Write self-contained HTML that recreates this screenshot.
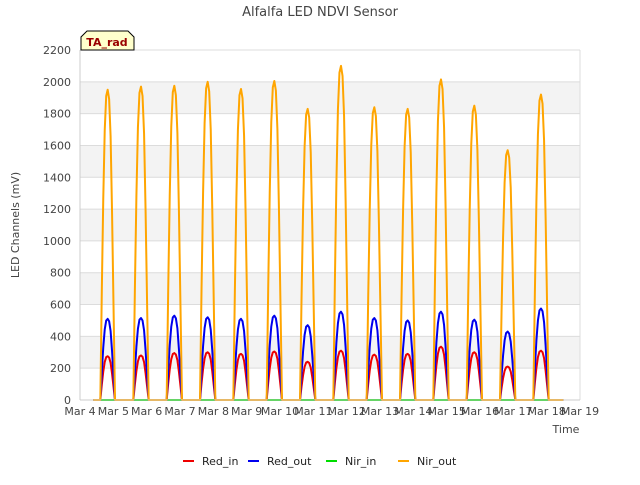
<!DOCTYPE html>
<html><head><meta charset="utf-8"><style>
body{margin:0;background:#fff;font-family:"Liberation Sans","DejaVu Sans",sans-serif}
svg text{font-family:"DejaVu Sans","Liberation Sans",sans-serif}
</style></head><body>
<svg id="c" width="640" height="480">
<text x="320" y="16" text-anchor="middle" font-size="13" fill="#444">Alfalfa LED NDVI Sensor</text>
<g id="grid"></g>
<g id="series"></g>
<g id="axes"></g>
<text transform="translate(19,225) rotate(-90)" text-anchor="middle" font-size="11" fill="#444">LED Channels (mV)</text>
<text x="566" y="433" text-anchor="middle" font-size="11" fill="#444">Time</text>
<g>
<path d="M81,50 L81,37 L87,31 L128,31 L134,37 L134,50 Z" fill="#ffffcc" stroke="#000" stroke-width="1"/>
<text x="107" y="46" text-anchor="middle" font-size="11" font-weight="bold" fill="#990000">TA_rad</text>
</g>
<g id="legend"></g>
</svg>
<script>
const yTicks=[0,200,400,600,800,1000,1200,1400,1600,1800,2000,2200];
const xTickLabels=["Mar 4","Mar 5","Mar 6","Mar 7","Mar 8","Mar 9","Mar 10","Mar 11","Mar 12","Mar 13","Mar 14","Mar 15","Mar 16","Mar 17","Mar 18","Mar 19"];
const nirOutPeaks=[1950,1970,1975,2000,1955,2005,1830,2100,1840,1830,2015,1850,1570,1920];
const redOutPeaks=[510,515,530,520,510,530,470,555,515,500,555,505,430,575];
const redInPeaks=[275,280,295,300,290,305,240,310,285,290,335,300,210,310];
const nirInPeaks=[0,0,0,0,0,0,0,0,0,0,0,0,0,0];
const humpProfile=[0,0.35,0.65,0.87,0.98,1,0.97,0.85,0.6,0.3,0];
const X0=80,X1=580,Y0=400,Y1=50;
const x=d=>X0+(d)*(X1-X0)/15;
const y=v=>Y0-v*(Y0-Y1)/2200;
const ns="http://www.w3.org/2000/svg";
function mk(tag,attrs,parent){const e=document.createElementNS(ns,tag);for(const k in attrs)e.setAttribute(k,attrs[k]);parent.appendChild(e);return e;}
const grid=document.getElementById('grid'),axes=document.getElementById('axes'),ser=document.getElementById('series'),leg=document.getElementById('legend');
for(let i=0;i<yTicks.length-1;i++){
 if(i%2===1){const r=mk('rect',{x:X0,y:y(yTicks[i+1]),width:X1-X0,height:y(yTicks[i])-y(yTicks[i+1]),fill:'#f3f3f3'},grid);
 
 }
}
yTicks.forEach(v=>{
 const l=mk('line',{x1:X0,x2:X1,y1:y(v),y2:y(v),stroke:'#dcdcdc'},grid);
 
 
 const t=mk('text',{x:X0-9,y:y(v)+4,'text-anchor':'end','font-size':'11',fill:'#444'},axes);
 t.textContent=v;
 
 
});
mk('line',{x1:X1,x2:X1,y1:Y1,y2:Y0,stroke:'#dcdcdc'},grid);
mk('line',{x1:X0,x2:X0,y1:Y1,y2:Y0,stroke:'#ccc'},axes);
mk('line',{x1:X0,x2:X1,y1:Y0,y2:Y0,stroke:'#ccc'},axes);
xTickLabels.forEach((s,i)=>{
 const t=mk('text',{x:x(i),y:Y0+15,'text-anchor':'middle','font-size':'11',fill:'#444'},axes);
 t.textContent=s;
 
 
});
function series(peaks,color,width,name){
 let pts=[[x(0.4),y(0)]];
 peaks.forEach((p,d)=>{
  const c=d+0.83,hw=d===0?0.22:0.23;
  humpProfile.forEach((f,k)=>{const t=c-hw+2*hw*k/(humpProfile.length-1);pts.push([x(t),y(p*f)]);});
 });
 pts.push([x(14.5),y(0)]);
 const p=mk('polyline',{points:pts.map(q=>q.join(',')).join(' '),fill:'none',stroke:color,'stroke-width':width,'stroke-linejoin':'round'},ser);
 
 
}
series(nirInPeaks,'#00dd00',2,'nir-in-line');
series(redInPeaks,'#ee0000',2,'red-in-line');
series(redOutPeaks,'#0000ee',2,'red-out-line');
series(nirOutPeaks,'#ffa500',2,'nir-out-line');
const legItems=[["Red_in","#ee0000",183],["Red_out","#0000ee",248],["Nir_in","#00dd00",326],["Nir_out","#ffa500",398]];
legItems.forEach(([n,c,lx])=>{
 const g=mk('g',{},leg);
 
 
 mk('line',{x1:lx,x2:lx+11,y1:461,y2:461,stroke:c,'stroke-width':2},g);
 const t=mk('text',{x:lx+19,y:465,'font-size':'11',fill:'#222'},g);t.textContent=n;
});
</script>
</body></html>
